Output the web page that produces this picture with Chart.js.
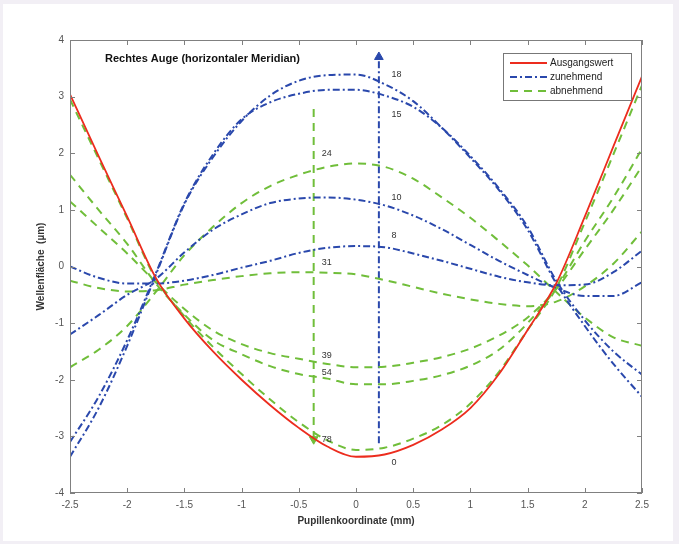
<!DOCTYPE html>
<html>
<head>
<meta charset="utf-8">
<script src="https://cdn.jsdelivr.net/npm/chart.js@4.4.1/dist/chart.umd.min.js"></script>
<style>
html, body { margin: 0; padding: 0; background: #f2eff5; }
#wrap { width: 679px; height: 544px; }
</style>
</head>
<body>
<div id="wrap"><canvas id="myChart" width="679" height="544"></canvas></div>
<script>
var pupil = [-2.5, -2.25, -2, -1.75, -1.5, -1.25, -1, -0.75, -0.5, -0.25, 0,
             0.25, 0.5, 0.75, 1, 1.25, 1.5, 1.75, 2, 2.25, 2.5];

// Ausgangswert (0)
var w0  = [3.04, 1.95, 0.88, -0.2, -0.92, -1.5, -2.0, -2.45, -2.85, -3.18, -3.36,
           -3.32, -3.15, -2.88, -2.5, -1.9, -1.12, -0.3, 0.88, 2.12, 3.36];
// zunehmend
var w8  = [0.0, -0.2, -0.3, -0.3, -0.25, -0.15, -0.02, 0.1, 0.24, 0.33, 0.36,
           0.34, 0.23, 0.1, -0.04, -0.18, -0.28, -0.33, -0.32, -0.1, 0.28];
var w10 = [-1.2, -0.86, -0.5, -0.22, 0.25, 0.65, 0.92, 1.12, 1.2, 1.22, 1.18,
           1.08, 0.9, 0.66, 0.38, 0.1, -0.15, -0.38, -0.52, -0.52, -0.28];
var w15 = [-3.1, -2.3, -1.3, -0.12, 1.12, 1.98, 2.6, 2.9, 3.05, 3.12, 3.12,
           3.02, 2.82, 2.45, 1.95, 1.38, 0.7, -0.25, -0.95, -1.5, -1.91];
var w18 = [-3.36, -2.5, -1.4, -0.15, 1.1, 1.93, 2.57, 3.02, 3.28, 3.38, 3.39,
           3.22, 2.92, 2.45, 1.92, 1.35, 0.65, -0.3, -1.05, -1.72, -2.3];
// abnehmend
var w24 = [-1.78, -1.47, -1.05, -0.45, 0.2, 0.7, 1.12, 1.42, 1.62, 1.76, 1.82,
           1.76, 1.55, 1.22, 0.86, 0.45, 0.02, -0.45, -0.9, -1.25, -1.4];
var w31 = [-0.25, -0.38, -0.44, -0.42, -0.32, -0.24, -0.17, -0.12, -0.1, -0.11, -0.14,
           -0.24, -0.36, -0.48, -0.58, -0.66, -0.7, -0.62, -0.35, 0.05, 0.62];
var w39 = [1.15, 0.69, 0.23, -0.28, -0.75, -1.13, -1.37, -1.53, -1.63, -1.72, -1.78,
           -1.77, -1.7, -1.6, -1.45, -1.22, -0.9, -0.4, 0.3, 1.0, 1.77];
var w54 = [1.62, 1.0, 0.4, -0.3, -0.85, -1.3, -1.55, -1.76, -1.9, -1.98, -2.08,
           -2.08, -2.02, -1.92, -1.75, -1.47, -1.0, -0.38, 0.45, 1.22, 2.08];
var w78 = [2.95, 1.9, 0.85, -0.22, -0.88, -1.42, -1.9, -2.35, -2.75, -3.07, -3.24,
           -3.2, -3.04, -2.8, -2.42, -1.86, -1.12, -0.38, 0.78, 1.98, 3.2];

// arrows: [x, yStart, yEnd]
var arrowUp   = [0.2, -3.12, 3.7];
var arrowDown = [-0.37, 2.78, -3.05];

// curve labels: text, x, y
var curveLabels = [
  ['18', 0.31, 3.39], ['15', 0.31, 2.69], ['10', 0.31, 1.22], ['8', 0.31, 0.55], ['0', 0.31, -3.46],
  ['24', -0.3, 2.0], ['31', -0.3, 0.07], ['39', -0.3, -1.57], ['54', -0.3, -1.87], ['78', -0.3, -3.06]
];

var legendNames = ['Ausgangswert', 'zunehmend', 'abnehmend'];
var xTicks = [-2.5, -2, -1.5, -1, -0.5, 0, 0.5, 1, 1.5, 2, 2.5];
var yTicks = [-4, -3, -2, -1, 0, 1, 2, 3, 4];

var RED = 'rgb(236, 44, 30)';
var BLUE = 'rgb(42, 72, 172)';
var GREEN = 'rgb(112, 190, 58)';
var dashBlue = [7, 3, 2, 3];
var dashGreen = [8, 6];

function pts(arr) {
    return pupil.map(function (x, i) { return { x: x, y: arr[i] }; });
}

function curve(arr, color, dash, width) {
    return {
        data: pts(arr),
        borderColor: color,
        borderWidth: width,
        borderDash: dash,
        pointRadius: 0,
        showLine: true,
        fill: false,
        cubicInterpolationMode: 'monotone'
    };
}

function arrow(a, color, dash, rot) {
    return {
        data: [{ x: a[0], y: a[1] }, { x: a[0], y: a[2] }],
        borderColor: color,
        backgroundColor: color,
        borderWidth: 2,
        borderDash: dash,
        showLine: true,
        pointStyle: 'triangle',
        pointRadius: [0, 5],
        pointRotation: rot,
        pointBorderWidth: 1,
        pointBorderColor: color
    };
}

var datasets = [
    curve(w0, RED, [], 1.8),
    curve(w8, BLUE, dashBlue, 2),
    curve(w10, BLUE, dashBlue, 2),
    curve(w15, BLUE, dashBlue, 2),
    curve(w18, BLUE, dashBlue, 2),
    curve(w24, GREEN, dashGreen, 2),
    curve(w31, GREEN, dashGreen, 2),
    curve(w39, GREEN, dashGreen, 2),
    curve(w54, GREEN, dashGreen, 2),
    curve(w78, GREEN, dashGreen, 2),
    arrow(arrowUp, BLUE, dashBlue, 0),
    arrow(arrowDown, GREEN, dashGreen, 180)
];

var decor = {
    id: 'decor',
    beforeDraw: function (chart) {
        var c = chart.ctx;
        c.save();
        c.fillStyle = '#f2eff5';
        c.fillRect(0, 0, chart.width, chart.height);
        c.fillStyle = '#ffffff';
        c.fillRect(3, 4, 670, 537);
        c.restore();
    },
    afterDraw: function (chart) {
        var c = chart.ctx;
        var a = chart.chartArea;
        var sx = chart.scales.x, sy = chart.scales.y;
        c.save();
        // frame + inward ticks on all sides
        c.strokeStyle = '#808080';
        c.lineWidth = 1;
        c.setLineDash([]);
        c.strokeRect(a.left + 0.5, a.top + 0.5, a.right - a.left - 1, a.bottom - a.top - 1);
        c.beginPath();
        xTicks.forEach(function (v) {
            var px = Math.round(sx.getPixelForValue(v)) + 0.5;
            c.moveTo(px, a.bottom); c.lineTo(px, a.bottom - 5);
            c.moveTo(px, a.top); c.lineTo(px, a.top + 5);
        });
        yTicks.forEach(function (v) {
            var py = Math.round(sy.getPixelForValue(v)) + 0.5;
            c.moveTo(a.left, py); c.lineTo(a.left + 5, py);
            c.moveTo(a.right, py); c.lineTo(a.right - 5, py);
        });
        c.stroke();

        // title inside the plot
        c.fillStyle = '#111';
        c.font = 'bold 11px "Liberation Sans", Arial, sans-serif';
        c.textAlign = 'left';
        c.textBaseline = 'middle';
        c.fillText('Rechtes Auge (horizontaler Meridian)', 105, 59);

        // curve numbers
        c.font = '9px "Liberation Sans", Arial, sans-serif';
        c.fillStyle = '#333';
        curveLabels.forEach(function (l) {
            c.fillText(l[0], sx.getPixelForValue(l[1]), sy.getPixelForValue(l[2]));
        });

        // legend box
        var lx = 503, ly = 53, lw = 128, lh = 47;
        c.fillStyle = '#fff';
        c.fillRect(lx, ly, lw, lh);
        c.strokeStyle = '#777';
        c.strokeRect(lx + 0.5, ly + 0.5, lw, lh);
        var cols = [RED, BLUE, GREEN];
        var dashes = [[], dashBlue, dashGreen];
        c.font = '10px "Liberation Sans", Arial, sans-serif';
        legendNames.forEach(function (n, i) {
            var yy = ly + 10 + i * 14;
            c.strokeStyle = cols[i];
            c.lineWidth = i === 0 ? 1.8 : 2;
            c.setLineDash(dashes[i]);
            c.beginPath();
            c.moveTo(lx + 7, yy); c.lineTo(lx + 44, yy);
            c.stroke();
            c.setLineDash([]);
            c.fillStyle = '#222';
            c.fillText(n, lx + 47, yy);
        });

        // axis titles
        c.fillStyle = '#333';
        c.font = 'bold 10px "Liberation Sans", Arial, sans-serif';
        c.textAlign = 'center';
        c.fillText('Pupillenkoordinate (mm)', (a.left + a.right) / 2, 521);
        c.translate(41, (a.top + a.bottom) / 2);
        c.rotate(-Math.PI / 2);
        c.fillText('Wellenfläche  (µm)', 0, 0);
        c.restore();
    }
};

function plainTick(v) { return String(v); }

var ctx = document.getElementById('myChart');
var myChart = new Chart(ctx, {
    type: 'scatter',
    data: { datasets: datasets },
    options: {
        responsive: false,
        animation: false,
        events: [],
        layout: { padding: { top: 40, right: 37, left: 0, bottom: 0 } },
        plugins: { legend: { display: false }, tooltip: { enabled: false } },
        scales: {
            x: {
                type: 'linear', min: -2.5, max: 2.5,
                grid: { display: false, drawTicks: false, tickLength: 0 },
                border: { display: false },
                ticks: { stepSize: 0.5, padding: 6, color: '#555', callback: plainTick,
                         font: { size: 10, family: '"Liberation Sans", Arial, sans-serif' } },
                afterFit: function (s) { s.height = 51; }
            },
            y: {
                type: 'linear', min: -4, max: 4,
                grid: { display: false, drawTicks: false, tickLength: 0 },
                border: { display: false },
                ticks: { stepSize: 1, padding: 6, color: '#555', callback: plainTick,
                         font: { size: 10, family: '"Liberation Sans", Arial, sans-serif' } },
                afterFit: function (s) { s.width = 70; }
            }
        }
    },
    plugins: [decor]
});
</script>
</body>
</html>
